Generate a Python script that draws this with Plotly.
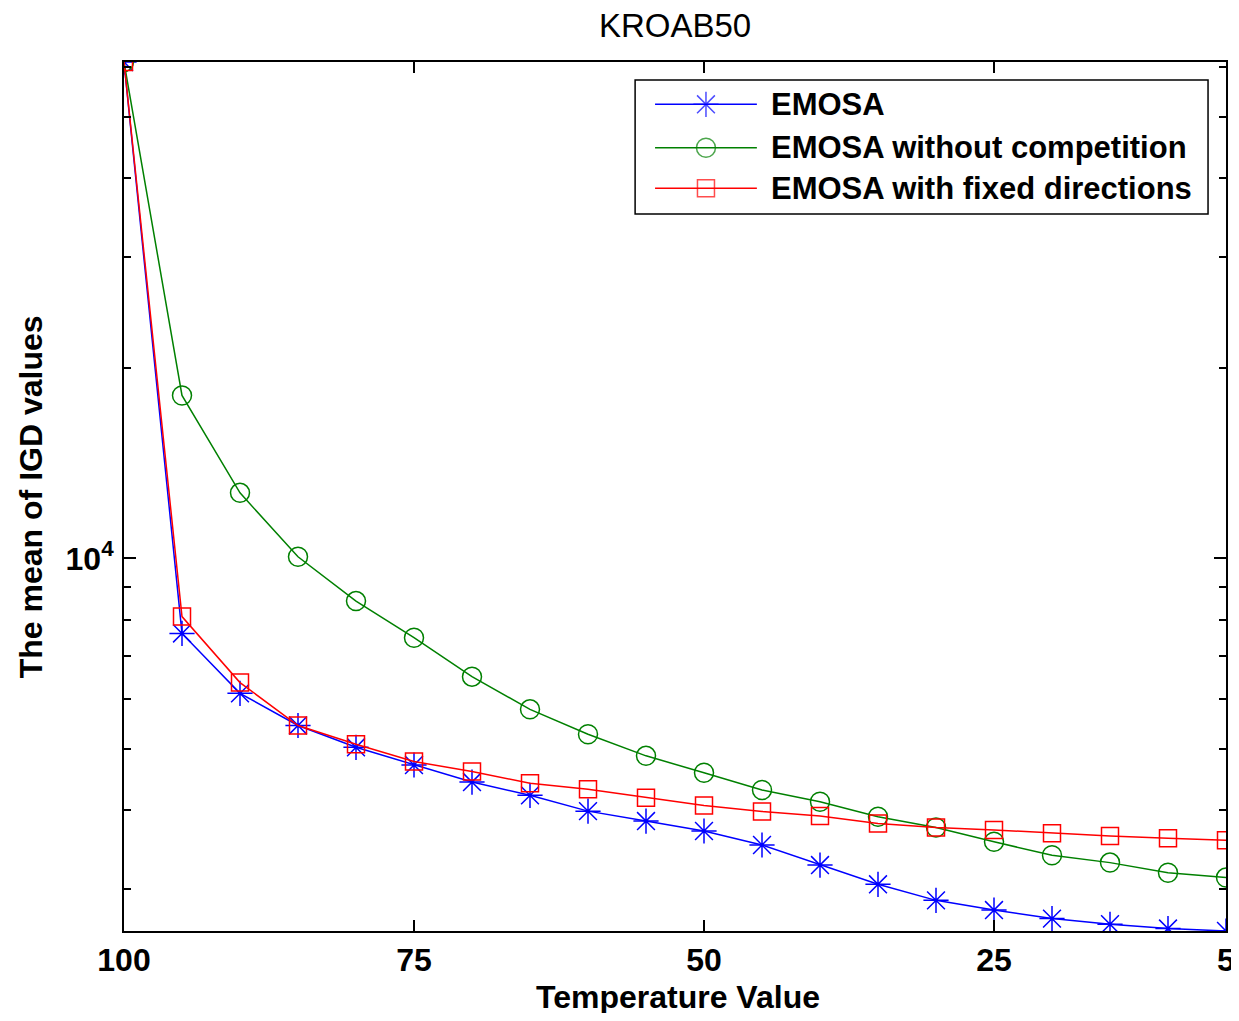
import plotly.graph_objects as go
import math

# temperature steps (x axis runs from 100 down to 5)
temperature = [100, 95, 90, 85, 80, 75, 70, 65, 60, 55, 50, 45, 40, 35, 30, 25, 20, 15, 10, 5]

# mean IGD values
emosa = [61070, 7608, 6116, 5440, 5024, 4710, 4426, 4217, 3981, 3840,
         3703, 3519, 3271, 3049, 2876, 2776, 2691, 2636, 2595, 2572]
emosa_no_comp = [61070, 18110, 12700, 10060, 8560, 7490, 6500, 5770, 5270, 4870,
                 4580, 4300, 4120, 3900, 3750, 3560, 3390, 3300, 3180, 3125]
emosa_fixed = [61070, 8090, 6360, 5440, 5080, 4770, 4600, 4406, 4310, 4180,
               4065, 3977, 3910, 3807, 3750, 3717, 3672, 3636, 3606, 3579]

names = ["EMOSA", "EMOSA without competition", "EMOSA with fixed directions"]
colors = ["#0000ff", "#008000", "#ff0000"]
symbols = ["asterisk-open", "circle-open", "square-open"]
sizes = [21, 19, 17]

x_ticks = [100, 75, 50, 25, 5]
y_major = [10000]
y_major_text = ["10<sup>4</sup>"]
y_minor = [3000, 4000, 5000, 6000, 7000, 8000, 9000, 20000, 30000, 40000, 50000, 60000]

FONT = "Liberation Sans, Arial, sans-serif"

fig = go.Figure()
for ys, name, c, s, sz in zip([emosa, emosa_no_comp, emosa_fixed], names, colors, symbols, sizes):
    fig.add_trace(go.Scatter(
        x=temperature, y=ys, name=name, mode="lines+markers",
        line=dict(color=c, width=1.5),
        marker=dict(symbol=s, size=sz, color=c, line=dict(color=c, width=1.5)),
        showlegend=False))

# hand-built legend (MATLAB style, long line samples)
leg_y = [0.9513, 0.9013, 0.8547]
for name, c, s, sz, ly in zip(names, colors, symbols, sizes, leg_y):
    fig.add_trace(go.Scatter(
        x=[0.4819, 0.5281, 0.5743], y=[ly, ly, ly], mode="lines+markers",
        xaxis="x2", yaxis="y2", showlegend=False, hoverinfo="skip",
        line=dict(color=c, width=1.5),
        marker=dict(symbol=s, size=[0, sz, 0], color=c, line=dict(color=c, width=1.5))))
    fig.add_annotation(x=0.5851, y=ly, xref="paper", yref="paper", text=name,
                       showarrow=False, xanchor="left", yanchor="middle",
                       font=dict(family=FONT, size=31, color="black", weight="bold"))

fig.add_shape(type="rect", xref="paper", yref="paper", x0=0.4638, x1=0.9837,
              y0=0.8251, y1=0.9793, line=dict(color="black", width=1.5),
              fillcolor="rgba(0,0,0,0)", layer="above")

allv = emosa + emosa_no_comp + emosa_fixed
lo, hi = min(allv), max(allv)

# height kept inside the window (8px page margin top and bottom) so nothing scrolls;
# right margin leaves room for the "5" tick label
fig.update_layout(
    width=1239, height=1005,
    margin=dict(l=116, r=18, t=54, b=82),
    paper_bgcolor="white", plot_bgcolor="white",
    font=dict(family=FONT, color="black"),
    title=dict(text="KROAB50", x=0.5, xref="paper", xanchor="center",
               y=1 - 17 / 1005, yanchor="middle",
               font=dict(family=FONT, size=33, color="black")),
    xaxis=dict(range=[100, 5], tickvals=x_ticks, ticks="inside", ticklen=11,
               tickwidth=2, tickcolor="black", showline=True, linecolor="black",
               linewidth=2, mirror="ticks", showgrid=False, zeroline=False,
               tickfont=dict(family=FONT, size=32, color="black", weight="bold")),
    yaxis=dict(type="log", range=[math.log10(lo), math.log10(hi)],
               tickvals=y_major, ticktext=y_major_text, ticks="inside", ticklen=12,
               tickwidth=2, tickcolor="black", showline=True, linecolor="black",
               linewidth=2, mirror="ticks", showgrid=False, zeroline=False,
               ticklabelstandoff=2,
               tickfont=dict(family=FONT, size=32, color="black", weight="bold"),
               minor=dict(tickvals=y_minor, ticks="inside", ticklen=7, tickwidth=2,
                          tickcolor="black", showgrid=False)),
    xaxis2=dict(overlaying="x", range=[0, 1], visible=False, anchor="y2"),
    yaxis2=dict(overlaying="y", range=[0, 1], visible=False, anchor="x2"),
)

fig.add_annotation(x=0.503, y=-0.0760, xref="paper", yref="paper",
                   text="Temperature Value", showarrow=False,
                   xanchor="center", yanchor="middle",
                   font=dict(family=FONT, size=32, color="black", weight="bold"))
fig.add_annotation(x=-0.0842, y=0.4994, xref="paper", yref="paper",
                   text="The mean of IGD values", showarrow=False, textangle=-90,
                   xanchor="center", yanchor="middle",
                   font=dict(family=FONT, size=32, color="black", weight="bold"))

fig.write_html("out.html")
